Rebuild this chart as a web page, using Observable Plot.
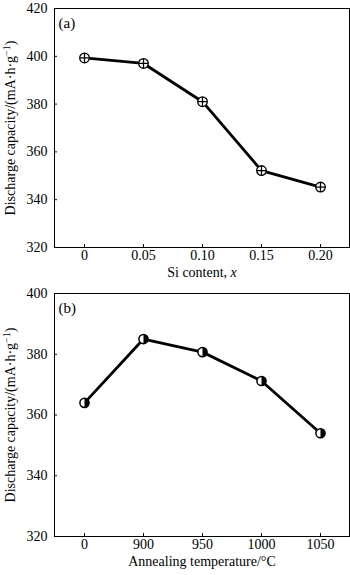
<!DOCTYPE html>
<html><head><meta charset="utf-8">
<script src="https://cdn.jsdelivr.net/npm/d3@7"></script>
<script src="https://cdn.jsdelivr.net/npm/@observablehq/plot@0.6"></script>
<style>
body{margin:0;background:#fff;width:350px;height:575px;overflow:hidden}
svg{display:block}
</style></head><body><div id="chart"></div>
<script>
const siContent = ["0","0.05","0.10","0.15","0.20"];
const capacityA = [399.3, 397, 381, 352.2, 345.3];
const annealTemp = ["0","900","950","1000","1050"];
const capacityB = [364, 385, 380.7, 371.2, 354];
const yTicksA = [320,340,360,380,400,420];
const yTicksB = [320,340,360,380,400];

const dataA = siContent.map((x,i)=>({x, y: capacityA[i]}));
const dataB = annealTemp.map((x,i)=>({x, y: capacityB[i]}));

const crossCircle = {draw(ctx, size){const r=Math.sqrt(size/Math.PI);ctx.moveTo(r,0);ctx.arc(0,0,r,0,2*Math.PI);ctx.moveTo(-r,0);ctx.lineTo(r,0);ctx.moveTo(0,-r);ctx.lineTo(0,r);}};
const rightHalf = {draw(ctx, size){const r=Math.sqrt(size/Math.PI);ctx.moveTo(0,-r);ctx.arc(0,0,r,-Math.PI/2,Math.PI/2);ctx.closePath();}};

const font = "'Liberation Serif','Times New Roman',serif";
function panel(data, domainX, domainY, ticksY, tag, height, mt, mb, xlabel){
  return Plot.plot({
    width:350, height, marginLeft:54, marginRight:1, marginTop:mt, marginBottom:mb,
    style:{fontFamily:font, fontSize:"14px", color:"#000", background:"#fff"},
    x:{type:"point", domain:domainX, padding:0.5},
    y:{domain:domainY},
    marks:[
      Plot.frame({stroke:"#000", strokeWidth:1}),
      Plot.axisY({ticks:ticksY, tickSize:-3, tickPadding:10, fontSize:14, label:"Discharge capacity", labelAnchor:"center", labelOffset:49, labelArrow:"none"}),
      Plot.axisX({tickSize:-3, tickPadding:6, fontSize:14, label:xlabel, labelAnchor:"center", labelOffset:29, labelArrow:"none"}),
      Plot.line(data,{x:"x", y:"y", stroke:"#000", strokeWidth:2.8}),
      tag==="(a)"
        ? Plot.dot(data,{x:"x", y:"y", r:4.8, symbol:crossCircle, fill:"#fff", stroke:"#000", strokeWidth:1.3})
        : Plot.dot(data,{x:"x", y:"y", r:4.6, symbol:"circle", fill:"#fff", stroke:"#000", strokeWidth:1.5}),
      tag==="(b)" ? Plot.dot(data,{x:"x", y:"y", r:4.6, symbol:rightHalf, fill:"#000"}) : null,
      Plot.text([tag],{frameAnchor:"top-left", dx:4, dy:9, text:d=>d, fontSize:15})
    ]
  });
}
const A = panel(dataA, siContent, [320,420], yTicksA, "(a)", 285, 8, 38, "Si content, x");
const B = panel(dataB, annealTemp, [320,400], yTicksB, "(b)", 290, 8, 39, "Annealing temperature/°C");
const root = document.getElementById("chart");
root.appendChild(A); root.appendChild(B);

function fixLabels(svg, italicX){
  const yl = svg.querySelector('g[aria-label="y-axis label"] text');
  if (yl){ yl.innerHTML = 'Discharge capacity/(mA·h·g<tspan dy="-5" font-size="10">−1</tspan><tspan dy="5">)</tspan>'; }
  if (italicX){
    const xl = svg.querySelector('g[aria-label="x-axis label"] text');
    if (xl){ xl.innerHTML = 'Si content, <tspan font-style="italic">x</tspan>'; }
  }
}
fixLabels(A, true); fixLabels(B, false);
</script></body></html>
